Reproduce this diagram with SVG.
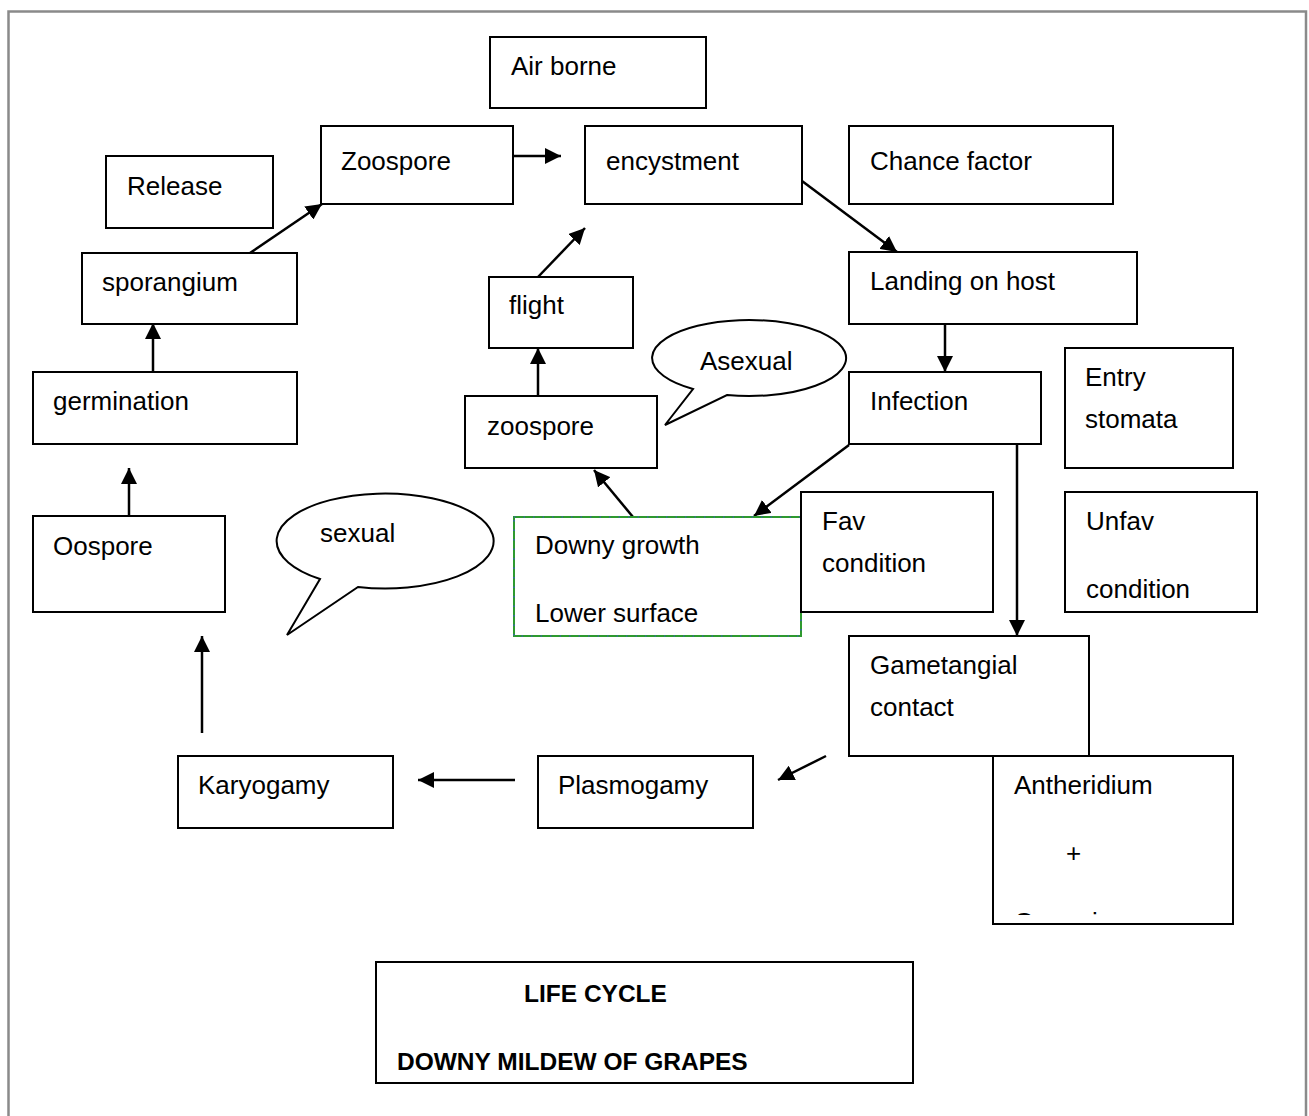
<svg xmlns="http://www.w3.org/2000/svg" width="1309" height="1116" viewBox="0 0 1309 1116">
  <style>
    .box { fill: #ffffff; stroke: #000000; stroke-width: 2; }
    .lbl { font-family: "Liberation Sans", Arial, sans-serif; font-size: 26px; fill: #000000; }
    .ttl { font-family: "Liberation Sans", Arial, sans-serif; font-size: 24.5px; font-weight: bold; fill: #000000; }
    .bubble { fill: #ffffff; stroke: #000000; stroke-width: 2; stroke-linejoin: miter; }
    .edge { fill: none; stroke: #000000; stroke-width: 2.5; marker-end: url(#arrow); }
  </style>
  <defs>
    <marker id="arrow" markerUnits="userSpaceOnUse" markerWidth="17" markerHeight="16" refX="16" refY="8" orient="auto">
      <path d="M0,0 L16,8 L0,16 Z" fill="#000000"/>
    </marker>
    <clipPath id="gametesClip">
      <rect x="993" y="756" width="240" height="159"/>
    </clipPath>
  </defs>

  <!-- page frame -->
  <rect x="8.5" y="11.5" width="1297.5" height="1120" fill="#ffffff" stroke="#8a8a8a" stroke-width="2.5"/>

  <!-- connectors -->
  <g id="connectors">
    <line class="edge" x1="513" y1="156" x2="561" y2="156"/>
    <line class="edge" x1="250" y1="253" x2="322" y2="204"/>
    <line class="edge" x1="153" y1="372" x2="153" y2="323"/>
    <line class="edge" x1="129" y1="516" x2="129" y2="468"/>
    <line class="edge" x1="202" y1="733" x2="202" y2="636"/>
    <line class="edge" x1="515" y1="780" x2="418" y2="780"/>
    <line class="edge" x1="826" y1="756" x2="778" y2="780"/>
    <line class="edge" x1="1017" y1="444" x2="1017" y2="636"/>
    <line class="edge" x1="849" y1="445" x2="754" y2="516"/>
    <line class="edge" x1="945" y1="324" x2="945" y2="372"/>
    <line class="edge" x1="802" y1="181" x2="897" y2="252"/>
    <line class="edge" x1="633" y1="517" x2="594" y2="470"/>
    <line class="edge" x1="538" y1="396" x2="538" y2="348"/>
    <line class="edge" x1="538" y1="277" x2="585" y2="228"/>
  </g>

  <!-- nodes -->
  <g id="air-borne">
    <rect class="box" x="490" y="37" width="216" height="71"/>
    <text class="lbl" x="511" y="75">Air borne</text>
  </g>
  <g id="zoospore-top">
    <rect class="box" x="321" y="126" width="192" height="78"/>
    <text class="lbl" x="341" y="170">Zoospore</text>
  </g>
  <g id="encystment">
    <rect class="box" x="585" y="126" width="217" height="78"/>
    <text class="lbl" x="606" y="170">encystment</text>
  </g>
  <g id="chance-factor">
    <rect class="box" x="849" y="126" width="264" height="78"/>
    <text class="lbl" x="870" y="170">Chance factor</text>
  </g>
  <g id="release">
    <rect class="box" x="106" y="156" width="167" height="72"/>
    <text class="lbl" x="127" y="195">Release</text>
  </g>
  <g id="sporangium">
    <rect class="box" x="82" y="253" width="215" height="71"/>
    <text class="lbl" x="102" y="291">sporangium</text>
  </g>
  <g id="landing-on-host">
    <rect class="box" x="849" y="252" width="288" height="72"/>
    <text class="lbl" x="870" y="290">Landing on host</text>
  </g>
  <g id="flight">
    <rect class="box" x="489" y="277" width="144" height="71"/>
    <text class="lbl" x="509" y="314">flight</text>
  </g>
  <g id="asexual">
    <path class="bubble" d="M 727 395 A 97 38 0 1 0 693 389 L 665 425 Z"/>
    <text class="lbl" x="700" y="370">Asexual</text>
  </g>
  <g id="germination">
    <rect class="box" x="33" y="372" width="264" height="72"/>
    <text class="lbl" x="53" y="410">germination</text>
  </g>
  <g id="zoospore-lower">
    <rect class="box" x="465" y="396" width="192" height="72"/>
    <text class="lbl" x="487" y="435">zoospore</text>
  </g>
  <g id="infection">
    <rect class="box" x="849" y="372" width="192" height="72"/>
    <text class="lbl" x="870" y="410">Infection</text>
  </g>
  <g id="entry-stomata">
    <rect class="box" x="1065" y="348" width="168" height="120"/>
    <text class="lbl" x="1085" y="386">Entry</text>
    <text class="lbl" x="1085" y="428">stomata</text>
  </g>
  <g id="oospore">
    <rect class="box" x="33" y="516" width="192" height="96"/>
    <text class="lbl" x="53" y="555">Oospore</text>
  </g>
  <g id="sexual">
    <path class="bubble" d="M 358 587 A 108.5 47.5 0 1 0 320 579 L 287 635 Z"/>
    <text class="lbl" x="320" y="542">sexual</text>
  </g>
  <g id="downy-growth">
    <rect x="514" y="517" width="287" height="119" fill="#ffffff" stroke="#2e9a2e" stroke-width="2"/>
    <rect x="514" y="517" width="287" height="119" fill="none" stroke="#3a55d0" stroke-width="1.2" stroke-dasharray="1.5 8"/>
    <text class="lbl" x="535" y="554">Downy growth</text>
    <text class="lbl" x="535" y="622">Lower surface</text>
  </g>
  <g id="fav-condition">
    <rect class="box" x="801" y="492" width="192" height="120"/>
    <text class="lbl" x="822" y="530">Fav</text>
    <text class="lbl" x="822" y="572">condition</text>
  </g>
  <g id="unfav-condition">
    <rect class="box" x="1065" y="492" width="192" height="120"/>
    <text class="lbl" x="1086" y="530">Unfav</text>
    <text class="lbl" x="1086" y="598">condition</text>
  </g>
  <g id="gametangial-contact">
    <rect class="box" x="849" y="636" width="240" height="120"/>
    <text class="lbl" x="870" y="674">Gametangial</text>
    <text class="lbl" x="870" y="716">contact</text>
  </g>
  <g id="antheridium-oogonium">
    <rect class="box" x="993" y="756" width="240" height="168"/>
    <g clip-path="url(#gametesClip)">
      <text class="lbl" x="1014" y="794">Antheridium</text>
      <text class="lbl" x="1066" y="862">+</text>
      <text class="lbl" x="1014" y="931">Oogonium</text>
    </g>
  </g>
  <g id="karyogamy">
    <rect class="box" x="178" y="756" width="215" height="72"/>
    <text class="lbl" x="198" y="794">Karyogamy</text>
  </g>
  <g id="plasmogamy">
    <rect class="box" x="538" y="756" width="215" height="72"/>
    <text class="lbl" x="558" y="794">Plasmogamy</text>
  </g>
  <g id="title">
    <rect class="box" x="376" y="962" width="537" height="121"/>
    <text class="ttl" x="524" y="1002">LIFE CYCLE</text>
    <text class="ttl" x="397" y="1070">DOWNY MILDEW OF GRAPES</text>
  </g>
</svg>
